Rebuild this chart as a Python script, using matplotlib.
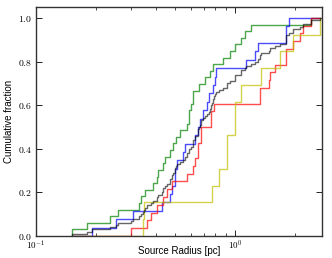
"""Cumulative fraction of source radii, four sub-samples plus the combined sample."""
import numpy as np
import matplotlib
matplotlib.use("Agg")
import matplotlib.pyplot as plt
from matplotlib.ticker import FixedLocator, FuncFormatter, LogLocator, NullFormatter

plt.rcParams.update({
    "font.family": "Liberation Sans",
    "mathtext.fontset": "cm",
    "font.size": 7,
})

# source radii [pc], one list per sub-sample
green_r = [0.152, 0.180, 0.237, 0.259, 0.329, 0.337, 0.353, 0.386, 0.404, 0.412,
           0.436, 0.445, 0.472, 0.490, 0.509, 0.529, 0.572, 0.589, 0.589, 0.606,
           0.617, 0.617, 0.662, 0.707, 0.749, 0.773, 0.873, 0.944, 1.000, 1.081,
           1.123, 1.213, 2.430]
blue_r = [0.192, 0.252, 0.308, 0.431, 0.472, 0.484, 0.500, 0.500, 0.515, 0.550,
          0.561, 0.630, 0.654, 0.667, 0.693, 0.729, 0.740, 0.778, 0.793, 0.809,
          1.145, 1.260, 1.309, 1.819, 1.819, 1.875]
red_r = [0.302, 0.361, 0.380, 0.404, 0.436, 0.454, 0.481, 0.572, 0.617, 0.630,
         0.654, 0.654, 0.680, 0.680, 0.764, 0.764, 0.789, 1.335, 1.335, 1.487,
         1.511, 1.589, 1.819, 1.819, 1.963, 2.122, 2.204, 2.430]
yellow_r = [0.346, 0.350, 0.769, 0.834, 0.917, 0.917, 1.000, 1.000, 1.081, 1.362,
            1.683, 1.963, 2.700]

SERIES = [
    (green_r, (0.0, 0.5, 0.0)),
    (blue_r, (0.0, 0.0, 1.0)),
    (red_r, (1.0, 0.0, 0.0)),
    (yellow_r, (0.75, 0.75, 0.0)),
]

all_r = np.sort(np.concatenate([np.asarray(s) for s, _ in SERIES]))
grid = np.concatenate([[all_r[0]], all_r])


def ecdf_on_grid(sample):
    sample = np.sort(np.asarray(sample))
    frac = np.searchsorted(sample, all_r, side="right") / len(sample)
    return np.concatenate([[0.0], frac])


fig = plt.figure(figsize=(3.32, 2.58), dpi=100)
ax = fig.add_axes([0.1084, 0.0853, 0.8616, 0.8876])

for sample, color in SERIES:
    ax.step(grid, ecdf_on_grid(sample), where="post", color=color, lw=1.0, alpha=0.7)
ax.step(grid, ecdf_on_grid(all_r), where="post", color="k", lw=1.0, alpha=0.6)

ax.set_xscale("log")
ax.set_xlim(0.1, 2.75)
ax.set_ylim(0.0, 1.05)

ax.xaxis.set_major_locator(LogLocator(base=10))
ax.xaxis.set_major_formatter(FuncFormatter(lambda v, p: r"$10^{%d}$" % round(np.log10(v))))
ax.xaxis.set_minor_locator(LogLocator(base=10, subs=np.arange(2, 10)))
ax.xaxis.set_minor_formatter(NullFormatter())
ax.yaxis.set_major_locator(FixedLocator([0.0, 0.2, 0.4, 0.6, 0.8, 1.0]))
ax.yaxis.set_major_formatter(FuncFormatter(lambda v, p: r"$%.1f$" % v))

ax.tick_params(which="both", direction="in", top=True, right=True, labelsize=7)
ax.tick_params(axis="x", which="major", pad=2, labelsize=6.5)
ax.tick_params(axis="y", which="major", pad=3)
ax.tick_params(which="major", length=4, width=0.6)
ax.tick_params(which="minor", length=2, width=0.5)
for sp in ax.spines.values():
    sp.set_linewidth(1.0)
    sp.set_color("#333333")

fig.text(0.5 * (0.1084 + 0.97), 1 - 251 / 258, "Source Radius [pc]",
         ha="center", va="center", fontsize=7)
ax.set_ylabel("Cumulative fraction", fontsize=7, labelpad=3)

fig.savefig("out.png", dpi=100)
